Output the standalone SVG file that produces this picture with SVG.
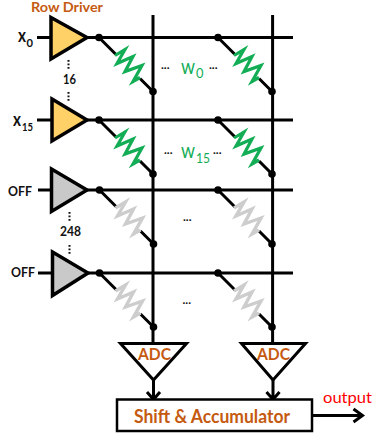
<svg xmlns="http://www.w3.org/2000/svg" width="373" height="434" viewBox="0 0 373 434">
<style>
text{font-family:Lato,"Open Sans","Liberation Sans",sans-serif}
.w{fill:none;stroke:#000;stroke-width:3}
.t{stroke:#000;stroke-width:3.500;stroke-linejoin:miter}
.on{fill:#ffd166}.off{fill:#c9c9c9}
.g{fill:none;stroke:#12ad55;stroke-width:3.200}
.y{fill:none;stroke:#cdcdcd;stroke-width:3.400}
.l{font-weight:700;font-size:14px;fill:#111}
.x{font-weight:700;font-size:19px;fill:#111}
.u{font-weight:700;font-size:12px;fill:#111}
.o{fill:#c55a11;font-weight:700}
.s{font-weight:700;font-size:13px;fill:#111}
.d{font-size:12px;font-weight:700;fill:#111}
.k{fill:#12ad55;font-size:21px}
.kk{fill:#12ad55;font-size:14px}
</style>
<defs>
<g id="cell-on"><path class="w" d="M0 0L17 17M41 41L54 54"/><path class="g" d="M16 18L26 12L18 26L34 19L26 34L43 28L34 44L41 40"/><circle cx="0" cy="0" r="3.800"/><circle cx="54" cy="54" r="3.800"/></g>
<g id="cell-off"><path class="w" d="M0 0L17 17M41 41L54 54"/><path class="y" d="M16 18L26 12L18 26L34 19L26 34L43 28L34 44L41 40"/><circle cx="0" cy="0" r="3.800"/><circle cx="54" cy="54" r="3.800"/></g>
</defs>
<g id="connectors">
<path class="w" d="M153 15V345M272.600 15V345"/>
<path class="w" d="M37 37.500H293M37 120H293M38 190H293M38 273H293"/>
<path class="w" d="M153.500 380V399M147 392L153.500 399.500L160 392M273 380V399M266.500 392L273 399.500L279.500 392"/>
<path class="w" d="M312 415.500H362M353.500 409L362.500 415.500L353.500 422"/>
<use href="#cell-on" x="99" y="37.500"/>
<use href="#cell-on" x="218" y="37.500"/>
<use href="#cell-on" x="99" y="120"/>
<use href="#cell-on" x="218" y="120"/>
<use href="#cell-off" x="99.500" y="190"/>
<use href="#cell-off" x="218" y="190"/>
<use href="#cell-off" x="99.500" y="273"/>
<use href="#cell-off" x="218" y="273"/>
</g>
<g id="row-driver-label"><text class="o" x="31" y="12" font-size="12.500" textLength="72" lengthAdjust="spacingAndGlyphs">Row Driver</text></g>
<g id="driver-x0"><path class="t on" d="M51 17.500L87 37.500L51 59Z"/><text class="x" x="18" y="42" textLength="8" lengthAdjust="spacingAndGlyphs">x</text><text class="u" x="26.500" y="47" textLength="6.500" lengthAdjust="spacingAndGlyphs">0</text></g>
<g id="driver-x15"><path class="t on" d="M52 99L87 120L52 141Z"/><text class="x" x="13" y="126" textLength="8" lengthAdjust="spacingAndGlyphs">x</text><text class="u" x="22" y="131" textLength="11" lengthAdjust="spacingAndGlyphs">15</text></g>
<g id="driver-off-1"><path class="t off" d="M51.500 169L87 190L51.500 211.500Z"/><text class="l" x="8" y="196" textLength="24" lengthAdjust="spacingAndGlyphs">OFF</text></g>
<g id="driver-off-2"><path class="t off" d="M52.500 252L88 273L52.500 295.500Z"/><text class="l" x="11" y="277" textLength="24" lengthAdjust="spacingAndGlyphs">OFF</text></g>
<g id="annotations">
<text class="s" x="63" y="83.500" textLength="13" lengthAdjust="spacingAndGlyphs">16</text>
<text class="s" x="60" y="236" textLength="21" lengthAdjust="spacingAndGlyphs">248</text>
<path d="M68.500 60v1.800M68.500 63.500v1.800M68.500 67v1.800M68.500 92v1.800M68.500 95.500v1.800M68.500 99v1.800M69.500 212v1.800M69.500 215.500v1.800M69.500 219v1.800M69.500 245v1.800M69.500 248.500v1.800M69.500 252v1.800" stroke="#111" stroke-width="2" fill="none"/>
<text class="d" x="161" y="68.500">...</text><text class="d" x="209" y="68.500">...</text>
<text class="d" x="164" y="154">...</text><text class="d" x="213" y="154">...</text>
<text class="d" x="183" y="221">...</text><text class="d" x="182.500" y="303.500">...</text>
<text class="k" x="181" y="74" textLength="14" lengthAdjust="spacingAndGlyphs">w</text><text class="kk" x="196" y="78" textLength="7.500" lengthAdjust="spacingAndGlyphs">0</text>
<text class="k" x="181" y="158" textLength="14" lengthAdjust="spacingAndGlyphs">w</text><text class="kk" x="196" y="163" textLength="14" lengthAdjust="spacingAndGlyphs">15</text>
</g>
<g id="adc-1"><path d="M120.500 343.500H186.500L153.500 380Z" fill="#fff" stroke="#000" stroke-width="3"/><text class="o" x="138" y="360" font-size="17" textLength="33" lengthAdjust="spacingAndGlyphs">ADC</text></g>
<g id="adc-2"><path d="M241.500 343.500H305.500L273 380Z" fill="#fff" stroke="#000" stroke-width="3"/><text class="o" x="257" y="360" font-size="17" textLength="33" lengthAdjust="spacingAndGlyphs">ADC</text></g>
<g id="shift-accumulator"><rect x="117" y="399.500" width="195" height="31.500" fill="#fff" stroke="#000" stroke-width="2.500"/><text class="o" x="134" y="422.500" font-size="18" textLength="156" lengthAdjust="spacingAndGlyphs">Shift &amp; Accumulator</text></g>
<g id="output-label"><text x="323" y="403" font-size="15.500" fill="#f00" textLength="49" lengthAdjust="spacingAndGlyphs">output</text></g>
</svg>
